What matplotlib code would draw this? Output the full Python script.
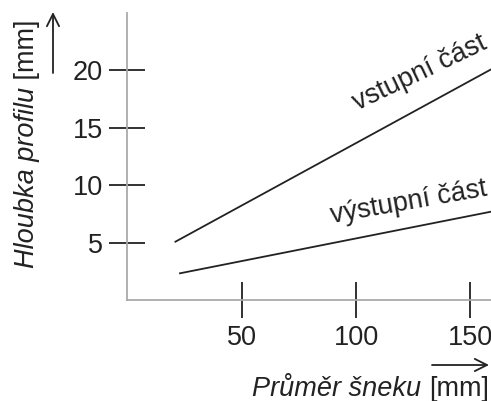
import matplotlib
matplotlib.use("Agg")
import matplotlib.pyplot as plt

plt.rcParams['font.family'] = ['Liberation Sans', 'DejaVu Sans']

# data
diam_in = [21, 160]
depth_in = [5.1, 20.2]
diam_out = [23, 160]
depth_out = [2.35, 7.75]
xticks = [50, 100, 150]
yticks = [5, 10, 15, 20]
label_in = "vstupní část"
label_out = "výstupní část"

W, H = 491, 401
fig = plt.figure(figsize=(W / 100, H / 100), dpi=100)
ax = fig.add_axes([127.4 / W, 1 - 300.3 / H, 1 - 127.4 / W, (300.3 - 13) / H])
ax.set_xlim(0, 159)
ax.set_ylim(0, 25)

lc = '#222222'
ax.plot(diam_in, depth_in, color=lc, lw=1.3, clip_on=True)
ax.plot(diam_out, depth_out, color=lc, lw=1.3, clip_on=True)

fs = 19.5
ax.text(100.8, 16.5, label_in, rotation=25.5, rotation_mode='anchor',
        ha='left', va='baseline', fontsize=fs, color='#222222')
ax.text(89.3, 6.75, label_out, rotation=10, rotation_mode='anchor',
        ha='left', va='baseline', fontsize=fs, color='#222222')

for s in ['top', 'right']:
    ax.spines[s].set_visible(False)
for s in ['left', 'bottom']:
    ax.spines[s].set_color('#aaaaaa')
    ax.spines[s].set_linewidth(1.3)

ax.set_xticks(xticks)
ax.set_yticks(yticks)
ax.tick_params(direction='inout', length=25.5, width=1.3, color='#222222',
               labelsize=fs, labelcolor='#222222')
ax.tick_params(axis='y', pad=5)
ax.tick_params(axis='x', pad=5)

# y label with arrow
ty = fig.text(27 / W, 1 - 268 / H, "Hloubka profilu", rotation=90, style='italic',
              ha='center', va='bottom', fontsize=fs, color='#222222')
fig.canvas.draw()
ax.annotate(" [mm]", xy=(0.5, 1.0), xycoords=ty, rotation=90,
            ha='center', va='bottom', fontsize=fs, color='#222222',
            annotation_clip=False)
ax.annotate("", xy=(53 / W, 1 - 12 / H), xytext=(53 / W, 1 - 73 / H),
            xycoords='figure fraction', textcoords='figure fraction',
            arrowprops=dict(arrowstyle='->', color='#222222', lw=1.3,
                            mutation_scale=22, shrinkA=0, shrinkB=0))

# x label with arrow
tx = fig.text(489 / W, 1 - 396 / H, "[mm]", ha='right', va='baseline',
              fontsize=fs, color='#222222')
fig.canvas.draw()
ax.annotate("Průměr šneku ", xy=(0.0, 0.0), xycoords=tx, style='italic',
            ha='right', va='bottom', fontsize=fs, color='#222222',
            annotation_clip=False)
ax.annotate("", xy=(489 / W, 1 - 365 / H), xytext=(432 / W, 1 - 365 / H),
            xycoords='figure fraction', textcoords='figure fraction',
            arrowprops=dict(arrowstyle='->', color='#222222', lw=1.3,
                            mutation_scale=22, shrinkA=0, shrinkB=0))

fig.savefig("out.png", dpi=100)
